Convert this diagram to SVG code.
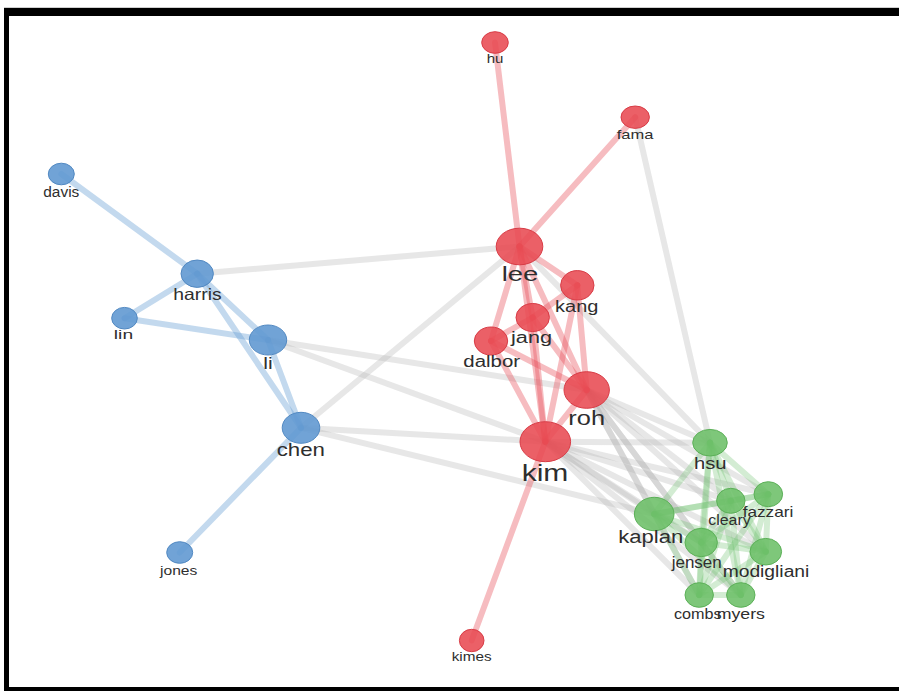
<svg xmlns="http://www.w3.org/2000/svg" width="899" height="691" viewBox="0 0 899 691">
<style>
.e{fill:none;stroke-width:6;stroke-linecap:round}
.g{stroke:#b5b5b5;stroke-opacity:0.32}
.b{stroke:#6a9fd4;stroke-opacity:0.4}
.r{stroke:#e8505a;stroke-opacity:0.38}
.n{stroke:#6cc06c;stroke-opacity:0.3}
.nb{fill:#6299d2;fill-opacity:0.9;stroke:#5289c2;stroke-width:1}
.nr{fill:#e84a52;fill-opacity:0.88;stroke:#d83c46;stroke-width:1}
.ng{fill:#6cbf68;fill-opacity:0.88;stroke:#5cb058;stroke-width:1}
text{font-family:"Liberation Sans",Arial,sans-serif;fill:#2e2e2e;text-anchor:middle}
</style>
<rect x="0" y="0" width="899" height="691" fill="#fff"/>
<rect x="4" y="7" width="895" height="1" fill="#cfcfcf"/>
<rect x="4" y="8" width="895" height="8" fill="#000"/>
<rect x="4" y="8" width="5" height="683" fill="#000"/>
<rect x="4" y="687" width="895" height="4" fill="#000"/>
<g id="connectors">
<line class="e g" x1="197.2" y1="273.7" x2="519.5" y2="246.5"/>
<line class="e g" x1="268" y1="340" x2="586.7" y2="390"/>
<line class="e g" x1="268" y1="340" x2="545.3" y2="441.7"/>
<line class="e g" x1="301" y1="427.8" x2="519.5" y2="246.5"/>
<line class="e g" x1="301" y1="427.8" x2="545.3" y2="441.7"/>
<line class="e g" x1="301" y1="427.8" x2="654.2" y2="514"/>
<line class="e g" x1="635.2" y1="117.2" x2="710" y2="442.7"/>
<line class="e g" x1="519.5" y1="246.5" x2="710" y2="442.7"/>
<line class="e g" x1="586.7" y1="390" x2="710" y2="442.7"/>
<line class="e g" x1="586.7" y1="390" x2="730.8" y2="500.8"/>
<line class="e g" x1="586.7" y1="390" x2="768.3" y2="494.2"/>
<line class="e g" x1="586.7" y1="390" x2="654.2" y2="514"/>
<line class="e g" x1="586.7" y1="390" x2="701.2" y2="542.5"/>
<line class="e g" x1="586.7" y1="390" x2="765.8" y2="551.7"/>
<line class="e g" x1="586.7" y1="390" x2="699.2" y2="595"/>
<line class="e g" x1="586.7" y1="390" x2="740.8" y2="595"/>
<line class="e g" x1="545.3" y1="441.7" x2="710" y2="442.7"/>
<line class="e g" x1="545.3" y1="441.7" x2="730.8" y2="500.8"/>
<line class="e g" x1="545.3" y1="441.7" x2="768.3" y2="494.2"/>
<line class="e g" x1="545.3" y1="441.7" x2="654.2" y2="514"/>
<line class="e g" x1="545.3" y1="441.7" x2="701.2" y2="542.5"/>
<line class="e g" x1="545.3" y1="441.7" x2="765.8" y2="551.7"/>
<line class="e g" x1="545.3" y1="441.7" x2="699.2" y2="595"/>
<line class="e g" x1="545.3" y1="441.7" x2="740.8" y2="595"/>
<line class="e n" x1="710" y1="442.7" x2="730.8" y2="500.8"/>
<line class="e n" x1="710" y1="442.7" x2="768.3" y2="494.2"/>
<line class="e n" x1="710" y1="442.7" x2="654.2" y2="514"/>
<line class="e n" x1="710" y1="442.7" x2="701.2" y2="542.5"/>
<line class="e n" x1="710" y1="442.7" x2="765.8" y2="551.7"/>
<line class="e n" x1="710" y1="442.7" x2="699.2" y2="595"/>
<line class="e n" x1="710" y1="442.7" x2="740.8" y2="595"/>
<line class="e n" x1="730.8" y1="500.8" x2="768.3" y2="494.2"/>
<line class="e n" x1="730.8" y1="500.8" x2="654.2" y2="514"/>
<line class="e n" x1="730.8" y1="500.8" x2="701.2" y2="542.5"/>
<line class="e n" x1="730.8" y1="500.8" x2="765.8" y2="551.7"/>
<line class="e n" x1="730.8" y1="500.8" x2="699.2" y2="595"/>
<line class="e n" x1="730.8" y1="500.8" x2="740.8" y2="595"/>
<line class="e n" x1="768.3" y1="494.2" x2="654.2" y2="514"/>
<line class="e n" x1="768.3" y1="494.2" x2="701.2" y2="542.5"/>
<line class="e n" x1="768.3" y1="494.2" x2="765.8" y2="551.7"/>
<line class="e n" x1="768.3" y1="494.2" x2="699.2" y2="595"/>
<line class="e n" x1="768.3" y1="494.2" x2="740.8" y2="595"/>
<line class="e n" x1="654.2" y1="514" x2="701.2" y2="542.5"/>
<line class="e n" x1="654.2" y1="514" x2="765.8" y2="551.7"/>
<line class="e n" x1="654.2" y1="514" x2="699.2" y2="595"/>
<line class="e n" x1="654.2" y1="514" x2="740.8" y2="595"/>
<line class="e n" x1="701.2" y1="542.5" x2="765.8" y2="551.7"/>
<line class="e n" x1="701.2" y1="542.5" x2="699.2" y2="595"/>
<line class="e n" x1="701.2" y1="542.5" x2="740.8" y2="595"/>
<line class="e n" x1="765.8" y1="551.7" x2="699.2" y2="595"/>
<line class="e n" x1="765.8" y1="551.7" x2="740.8" y2="595"/>
<line class="e n" x1="699.2" y1="595" x2="740.8" y2="595"/>
<line class="e r" x1="495" y1="42.5" x2="519.5" y2="246.5"/>
<line class="e r" x1="635.2" y1="117.2" x2="519.5" y2="246.5"/>
<line class="e r" x1="519.5" y1="246.5" x2="577.3" y2="285.3"/>
<line class="e r" x1="519.5" y1="246.5" x2="532.7" y2="317.5"/>
<line class="e r" x1="519.5" y1="246.5" x2="491" y2="341"/>
<line class="e r" x1="519.5" y1="246.5" x2="586.7" y2="390"/>
<line class="e r" x1="519.5" y1="246.5" x2="545.3" y2="441.7"/>
<line class="e r" x1="577.3" y1="285.3" x2="532.7" y2="317.5"/>
<line class="e r" x1="577.3" y1="285.3" x2="586.7" y2="390"/>
<line class="e r" x1="577.3" y1="285.3" x2="545.3" y2="441.7"/>
<line class="e r" x1="532.7" y1="317.5" x2="491" y2="341"/>
<line class="e r" x1="532.7" y1="317.5" x2="586.7" y2="390"/>
<line class="e r" x1="532.7" y1="317.5" x2="545.3" y2="441.7"/>
<line class="e r" x1="491" y1="341" x2="586.7" y2="390"/>
<line class="e r" x1="491" y1="341" x2="545.3" y2="441.7"/>
<line class="e r" x1="586.7" y1="390" x2="545.3" y2="441.7"/>
<line class="e r" x1="545.3" y1="441.7" x2="471.7" y2="640.5"/>
<line class="e b" x1="61.3" y1="174" x2="197.2" y2="273.7"/>
<line class="e b" x1="197.2" y1="273.7" x2="124.5" y2="318.2"/>
<line class="e b" x1="197.2" y1="273.7" x2="268" y2="340"/>
<line class="e b" x1="197.2" y1="273.7" x2="301" y2="427.8"/>
<line class="e b" x1="124.5" y1="318.2" x2="268" y2="340"/>
<line class="e b" x1="268" y1="340" x2="301" y2="427.8"/>
<line class="e b" x1="301" y1="427.8" x2="179.7" y2="552.5"/>
</g>
<g id="hu"><ellipse class="nr" cx="495" cy="42.5" rx="13.3" ry="10.8"/><text x="495" y="62.5" font-size="13.5" textLength="16.7" lengthAdjust="spacingAndGlyphs">hu</text></g>
<g id="fama"><ellipse class="nr" cx="635.2" cy="117.2" rx="14.2" ry="11.2"/><text x="635" y="139" font-size="13.5" textLength="36.7" lengthAdjust="spacingAndGlyphs">fama</text></g>
<g id="davis"><ellipse class="nb" cx="61.3" cy="174" rx="13" ry="10.8"/><text x="61.3" y="196.5" font-size="14" textLength="36" lengthAdjust="spacingAndGlyphs">davis</text></g>
<g id="harris"><ellipse class="nb" cx="197.2" cy="273.7" rx="16.2" ry="13.7"/><text x="197.5" y="300" font-size="16.5" textLength="48.3" lengthAdjust="spacingAndGlyphs">harris</text></g>
<g id="lin"><ellipse class="nb" cx="124.5" cy="318.2" rx="12.8" ry="10.8"/><text x="123.5" y="338.5" font-size="13.5" textLength="19.3" lengthAdjust="spacingAndGlyphs">lin</text></g>
<g id="li"><ellipse class="nb" cx="268" cy="340" rx="18.7" ry="15"/><text x="268" y="369" font-size="16" textLength="9.4" lengthAdjust="spacingAndGlyphs">li</text></g>
<g id="chen"><ellipse class="nb" cx="301" cy="427.8" rx="18.8" ry="15.5"/><text x="300.8" y="456" font-size="17.5" textLength="48.3" lengthAdjust="spacingAndGlyphs">chen</text></g>
<g id="jones"><ellipse class="nb" cx="179.7" cy="552.5" rx="13" ry="10.8"/><text x="178.7" y="575" font-size="13.5" textLength="37.3" lengthAdjust="spacingAndGlyphs">jones</text></g>
<g id="lee"><ellipse class="nr" cx="519.5" cy="246.5" rx="23.3" ry="18.3"/><text x="520" y="281" font-size="20.5" textLength="36.7" lengthAdjust="spacingAndGlyphs">lee</text></g>
<g id="kang"><ellipse class="nr" cx="577.3" cy="285.3" rx="16.7" ry="14.7"/><text x="576.7" y="312" font-size="16" textLength="43.3" lengthAdjust="spacingAndGlyphs">kang</text></g>
<g id="jang"><ellipse class="nr" cx="532.7" cy="317.5" rx="16.7" ry="14"/><text x="531.5" y="343" font-size="16" textLength="41" lengthAdjust="spacingAndGlyphs">jang</text></g>
<g id="dalbor"><ellipse class="nr" cx="491" cy="341" rx="16.7" ry="14"/><text x="491.7" y="366.7" font-size="16" textLength="56.7" lengthAdjust="spacingAndGlyphs">dalbor</text></g>
<g id="roh"><ellipse class="nr" cx="586.7" cy="390" rx="22.7" ry="18.3"/><text x="586.7" y="425" font-size="21" textLength="36.7" lengthAdjust="spacingAndGlyphs">roh</text></g>
<g id="kim"><ellipse class="nr" cx="545.3" cy="441.7" rx="25.3" ry="20"/><text x="545" y="481" font-size="24" textLength="46.7" lengthAdjust="spacingAndGlyphs">kim</text></g>
<g id="kimes"><ellipse class="nr" cx="471.7" cy="640.5" rx="12.3" ry="11.2"/><text x="471.7" y="660.7" font-size="13.5" textLength="40" lengthAdjust="spacingAndGlyphs">kimes</text></g>
<g id="hsu"><ellipse class="ng" cx="710" cy="442.7" rx="17.3" ry="13.3"/><text x="710.3" y="469" font-size="17" textLength="32.7" lengthAdjust="spacingAndGlyphs">hsu</text></g>
<g id="cleary"><ellipse class="ng" cx="730.8" cy="500.8" rx="14.2" ry="12.5"/><text x="729.5" y="525" font-size="14" textLength="42.3" lengthAdjust="spacingAndGlyphs">cleary</text></g>
<g id="fazzari"><ellipse class="ng" cx="768.3" cy="494.2" rx="14.3" ry="12.5"/><text x="768" y="517.3" font-size="15" textLength="50.7" lengthAdjust="spacingAndGlyphs">fazzari</text></g>
<g id="kaplan"><ellipse class="ng" cx="654.2" cy="514" rx="19.8" ry="16.7"/><text x="650.8" y="543.3" font-size="18" textLength="65" lengthAdjust="spacingAndGlyphs">kaplan</text></g>
<g id="jensen"><ellipse class="ng" cx="701.2" cy="542.5" rx="16.2" ry="14.2"/><text x="696.7" y="568.3" font-size="16" textLength="50" lengthAdjust="spacingAndGlyphs">jensen</text></g>
<g id="modigliani"><ellipse class="ng" cx="765.8" cy="551.7" rx="15.8" ry="13.3"/><text x="766" y="576.7" font-size="16" textLength="86.7" lengthAdjust="spacingAndGlyphs">modigliani</text></g>
<g id="combs"><ellipse class="ng" cx="699.2" cy="595" rx="14.2" ry="12.3"/><text x="697.8" y="619" font-size="14" textLength="47.7" lengthAdjust="spacingAndGlyphs">combs</text></g>
<g id="myers"><ellipse class="ng" cx="740.8" cy="595" rx="14.2" ry="12.3"/><text x="740.8" y="619" font-size="14" textLength="48.3" lengthAdjust="spacingAndGlyphs">myers</text></g>
</svg>
